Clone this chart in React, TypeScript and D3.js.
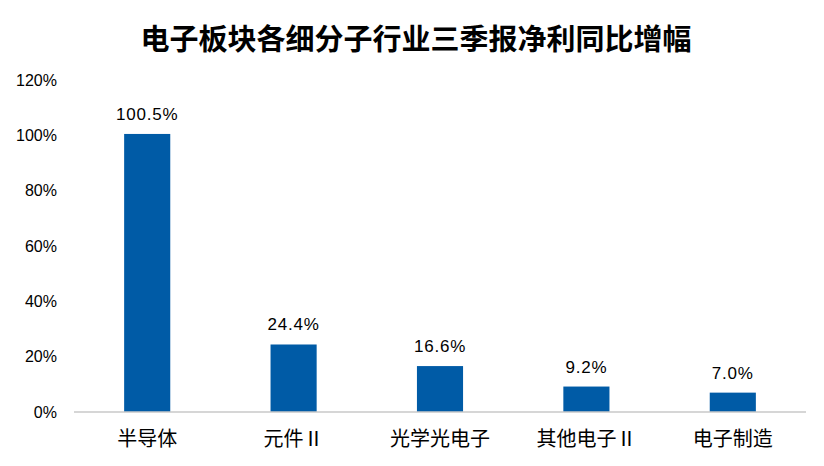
import React from "react";
import * as d3 from "d3";

const categories = ["半导体", "元件Ⅱ", "光学光电子", "其他电子Ⅱ", "电子制造"];
const values = [100.5, 24.4, 16.6, 9.2, 7.0];
const yTicks = [0, 20, 40, 60, 80, 100, 120];
const title = "电子板块各细分子行业三季报净利同比增幅";

export default function App() {
  const W = 824, H = 466;
  const left = 74, right = 806, top = 80, bottom = 412;
  const x = d3.scaleBand<string>().domain(categories).range([left, right]).paddingInner(0.685).paddingOuter(0.3425);
  const y = d3.scaleLinear().domain([0, 120]).range([bottom, top]);
  return (
    <svg width={W} height={H} style={{ position: "absolute", left: 0, top: 0, background: "#fff" }}>
      <text x={416} y={50} textAnchor="middle" fontFamily="'Noto Sans CJK SC', sans-serif" fontWeight="bold" fontSize={29} fill="#000">{title}</text>
      {yTicks.map(t => (
        <text key={t} x={57} y={y(t)} dy="0.35em" textAnchor="end" fontFamily="'Liberation Sans', Arial, sans-serif" fontSize={16} fill="#000">{t}%</text>
      ))}
      {categories.map((c, i) => (
        <g key={c}>
          <rect x={x(c)} y={y(values[i])} width={x.bandwidth()} height={bottom - y(values[i])} fill="#005BA6" />
          <text x={(x(c) as number) + x.bandwidth() / 2} y={y(values[i]) - 14} textAnchor="middle" fontFamily="'Liberation Sans', Arial, sans-serif" fontSize={17} letterSpacing={0.8} fill="#000">{values[i].toFixed(1)}%</text>
          <text x={(x(c) as number) + x.bandwidth() / 2} y={439} dy="0.35em" textAnchor="middle" fontFamily="'Noto Sans CJK SC', sans-serif" fontSize={20} fill="#000">{c}</text>
        </g>
      ))}
      <line x1={left} x2={right} y1={bottom} y2={bottom} stroke="#c8c8c8" strokeWidth={1.5} />
    </svg>
  );
}
